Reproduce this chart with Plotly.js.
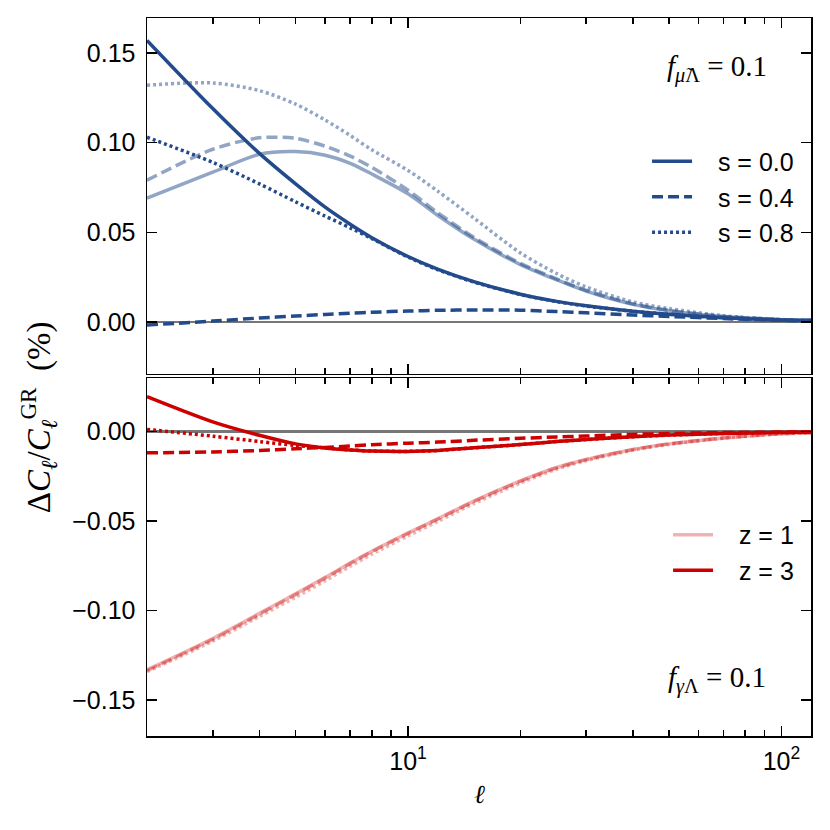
<!DOCTYPE html>
<html>
<head>
<meta charset="utf-8">
<script src="https://cdn.plot.ly/plotly-3.0.1.min.js"></script>
<style>
  body { margin: 0; background: #fff; }
</style>
</head>
<body>
<div id="myDiv" style="width:830px;height:830px;"></div>
<script>
  // multipole l
  var ell = [2, 3, 4, 5, 6, 7, 8, 10, 12, 15, 20, 25, 30, 40, 50, 70, 100, 120];

  // top panel, f_mu = 0.1 (light = z=1, dark = z=3)
  var mu_light_s00 = [0.069, 0.0835, 0.0935, 0.095, 0.093, 0.0885, 0.0825, 0.0715, 0.0595, 0.0462, 0.032, 0.0235, 0.0172, 0.0098, 0.0063, 0.003, 0.0013, 0.0009];
  var mu_light_s04 = [0.079, 0.0963, 0.1027, 0.1024, 0.098, 0.0925, 0.0862, 0.0735, 0.061, 0.0472, 0.0327, 0.024, 0.0176, 0.0101, 0.0065, 0.0031, 0.0013, 0.0009];
  var mu_light_s08 = [0.132, 0.1333, 0.129, 0.1215, 0.1126, 0.104, 0.096, 0.0845, 0.073, 0.058, 0.0385, 0.027, 0.0195, 0.0112, 0.0075, 0.0035, 0.0014, 0.0009];
  var mu_dark_s00 = [0.157, 0.119, 0.094, 0.077, 0.064, 0.0545, 0.047, 0.0365, 0.0295, 0.0225, 0.0155, 0.0115, 0.009, 0.006, 0.0043, 0.0024, 0.0011, 0.0008];
  var mu_dark_s04 = [-0.0017, 0.0005, 0.0022, 0.0033, 0.0042, 0.0049, 0.0054, 0.0061, 0.0065, 0.0067, 0.0066, 0.0058, 0.0051, 0.0039, 0.0031, 0.0019, 0.0009, 0.0006];
  var mu_dark_s08 = [0.103, 0.089, 0.077, 0.067, 0.059, 0.0525, 0.0465, 0.0362, 0.0292, 0.0223, 0.0153, 0.0114, 0.0089, 0.006, 0.0043, 0.0024, 0.0011, 0.0008];

  // bottom panel, f_gamma = 0.1
  var ga_light_s00 = [-0.133, -0.1155, -0.1015, -0.0905, -0.0814, -0.0734, -0.0668, -0.0566, -0.0487, -0.0388, -0.0275, -0.020, -0.0155, -0.0099, -0.0068, -0.0035, -0.0011, -0.0006];
  var ga_light_s04 = [-0.1335, -0.116, -0.102, -0.091, -0.0818, -0.0737, -0.067, -0.0568, -0.0489, -0.039, -0.0277, -0.0202, -0.0156, -0.0100, -0.0068, -0.0035, -0.0011, -0.0006];
  var ga_light_s08 = [-0.134, -0.117, -0.1032, -0.0925, -0.0833, -0.0752, -0.0685, -0.0582, -0.0502, -0.0402, -0.0287, -0.0210, -0.0162, -0.0104, -0.0071, -0.0037, -0.0012, -0.0006];
  var ga_dark_s00 = [0.0196, 0.0055, -0.002, -0.0068, -0.0091, -0.0102, -0.0108, -0.011, -0.0105, -0.009, -0.0072, -0.0055, -0.0044, -0.0028, -0.0019, -0.001, -0.0004, -0.0002];
  var ga_dark_s04 = [-0.0118, -0.0113, -0.0105, -0.0095, -0.0088, -0.008, -0.0073, -0.0064, -0.0058, -0.0048, -0.0037, -0.0029, -0.0024, -0.0015, -0.001, -0.0005, -0.0002, -0.0001];
  var ga_dark_s08 = [0.0013, -0.0025, -0.0055, -0.0077, -0.0091, -0.0102, -0.0108, -0.011, -0.0105, -0.009, -0.0072, -0.0055, -0.0044, -0.0028, -0.0019, -0.001, -0.0004, -0.0002];

  var xMajor = [10, 100];
  var xMajorText = ['10<sup>1</sup>', '10<sup>2</sup>'];
  var xMinor = [2, 3, 4, 5, 6, 7, 8, 9, 20, 30, 40, 50, 60, 70, 80, 90];

  var blueDark = 'rgb(35,75,140)';
  var blueLight = 'rgba(35,75,140,0.5)';
  var redDark = 'rgb(204,0,0)';
  var redLight = 'rgba(204,0,0,0.3)';
  var dashes = ['solid', '11px,5px', '3px,3px'];
  var pad = '\u00a0\u00a0\u00a0';

  function curve(y, color, dash, ax, name, legend, show) {
    return {
      x: ell, y: y, xaxis: ax[0], yaxis: ax[1],
      type: 'scatter', mode: 'lines',
      name: pad + name, showlegend: show, legend: legend,
      line: {color: color, width: 3.5, dash: dash, shape: 'spline', smoothing: 0.8},
      hoverinfo: 'skip'
    };
  }

  var upperAx = ['x2', 'y2'];
  var lowerAx = ['x', 'y'];
  var data = [
    curve(mu_light_s00, blueLight, dashes[0], upperAx, 'ml0', 'legend', false),
    curve(mu_light_s04, blueLight, dashes[1], upperAx, 'ml4', 'legend', false),
    curve(mu_light_s08, blueLight, dashes[2], upperAx, 'ml8', 'legend', false),
    curve(mu_dark_s00, blueDark, dashes[0], upperAx, 's = 0.0', 'legend', true),
    curve(mu_dark_s04, blueDark, dashes[1], upperAx, 's = 0.4', 'legend', true),
    curve(mu_dark_s08, blueDark, dashes[2], upperAx, 's = 0.8', 'legend', true),
    curve(ga_light_s00, redLight, dashes[0], lowerAx, 'z = 1', 'legend2', true),
    curve(ga_light_s04, redLight, dashes[1], lowerAx, 'gl4', 'legend2', false),
    curve(ga_light_s08, redLight, dashes[2], lowerAx, 'gl8', 'legend2', false),
    curve(ga_dark_s00, redDark, dashes[0], lowerAx, 'z = 3', 'legend2', true),
    curve(ga_dark_s04, redDark, dashes[1], lowerAx, 'gd4', 'legend2', false),
    curve(ga_dark_s08, redDark, dashes[2], lowerAx, 'gd8', 'legend2', false)
  ];

  var sans = 'Liberation Sans, Arial, sans-serif';
  var serif = 'Liberation Serif, DejaVu Serif, serif';

  function xAxis(extra) {
    var a = {
      type: 'log',
      range: [Math.log10(2), Math.log10(120)],
      tickmode: 'array', tickvals: xMajor, ticktext: xMajorText,
      ticks: 'inside', ticklen: 10, tickwidth: 1.5, tickcolor: '#000',
      minor: {tickmode: 'array', tickvals: xMinor, ticks: 'inside', ticklen: 6, tickwidth: 1.5, tickcolor: '#000', showgrid: false},
      showline: true, linecolor: '#000', linewidth: 1.5, mirror: 'allticks',
      showgrid: false, zeroline: false,
      tickfont: {family: sans, size: 25, color: '#000'},
      ticklabelstandoff: 2
    };
    for (var k in extra) a[k] = extra[k];
    return a;
  }

  function yAxis(extra) {
    var a = {
      dtick: 0.05, tick0: 0, tickformat: '.2f',
      ticks: 'inside', ticklen: 10, tickwidth: 1.5, tickcolor: '#000',
      showline: true, linecolor: '#000', linewidth: 1.5, mirror: 'allticks',
      showgrid: false,
      zeroline: true, zerolinecolor: '#777', zerolinewidth: 2.5,
      tickfont: {family: sans, size: 25, color: '#000'},
      ticklabelstandoff: 5
    };
    for (var k in extra) a[k] = extra[k];
    return a;
  }

  var legendStyle = {
    font: {family: sans, size: 25, color: '#000'},
    bgcolor: 'rgba(0,0,0,0)', borderwidth: 0,
    xanchor: 'right', yanchor: 'top',
    traceorder: 'normal', itemwidth: 40
  };

  var legend1 = Object.assign({}, legendStyle, {x: 0.982, y: 0.832});
  var legend2 = Object.assign({}, legendStyle, {x: 0.982, y: 0.312});

  function note(text, x, y, size, extra) {
    var a = {xref: 'paper', yref: 'paper', x: x, y: y, xanchor: 'center', yanchor: 'middle',
             showarrow: false, text: text, font: {family: serif, size: size, color: '#000'}};
    for (var k in extra) a[k] = extra[k];
    return a;
  }

  var layout = {
    width: 830, height: 830,
    margin: {l: 147, r: 19, t: 18, b: 94},
    paper_bgcolor: '#fff', plot_bgcolor: '#fff',
    showlegend: true,
    legend: legend1,
    legend2: legend2,
    xaxis: xAxis({anchor: 'y', domain: [0, 1]}),
    xaxis2: xAxis({anchor: 'y2', domain: [0, 1], matches: 'x', showticklabels: false}),
    yaxis: yAxis({anchor: 'x', domain: [0, 0.4986], range: [-0.17, 0.03]}),
    yaxis2: yAxis({anchor: 'x2', domain: [0.5042, 1], range: [-0.029, 0.1695]}),
    annotations: [
      note('<i>f</i><sub><i>μ̃</i>Λ</sub> = 0.1', 0.858, 0.930, 29),
      note('<i>f</i><sub><i>γ</i>Λ</sub> = 0.1', 0.858, 0.078, 29),
      note('Δ<i>C</i><sub><i>ℓ</i></sub>/<i>C</i><sub><i>ℓ</i></sub><sup>GR</sup>  (%)', -0.164, 0.444, 33, {textangle: -90}),
      note('<i>ℓ</i>', 0.5, -0.082, 26)
    ]
  };

  Plotly.newPlot('myDiv', data, layout, {displayModeBar: false, staticPlot: true});
</script>
</body>
</html>
